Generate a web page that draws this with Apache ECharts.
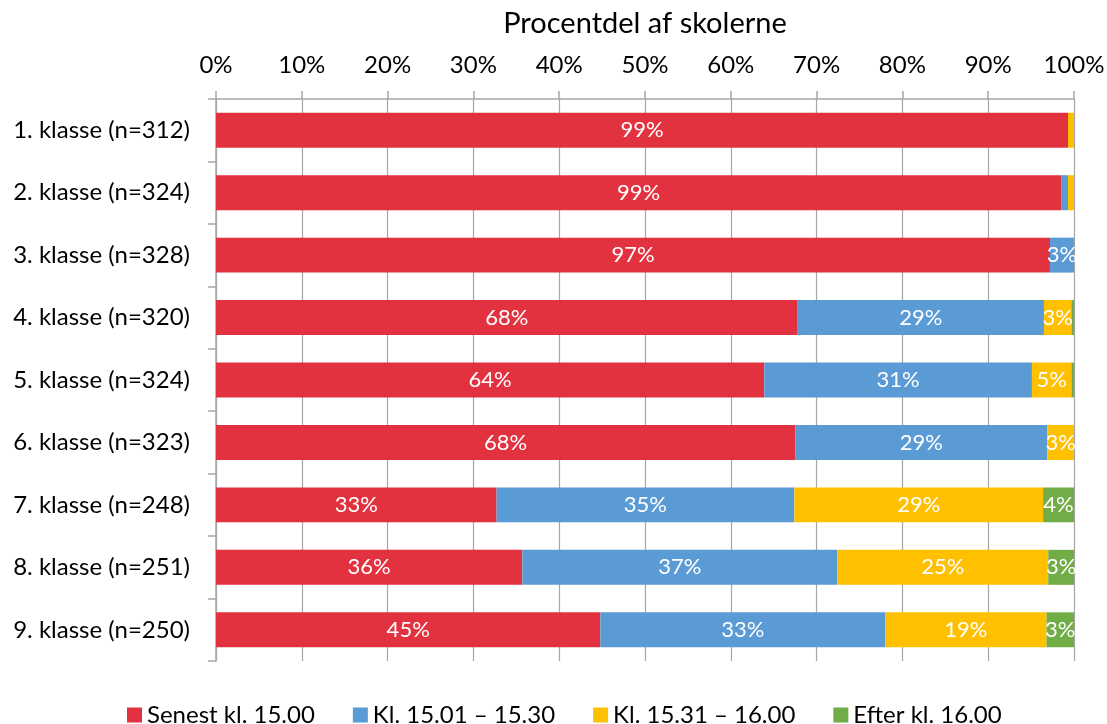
<!DOCTYPE html>
<html><head><meta charset="utf-8">
<script src="https://cdn.jsdelivr.net/npm/echarts@6/dist/echarts.min.js"></script>
<style>html,body{margin:0;padding:0;background:#fff}#c{width:1107px;height:724px}</style>
</head><body><div id="c"></div>
<script>
const categories = ['1. klasse (n=312)','2. klasse (n=324)','3. klasse (n=328)','4. klasse (n=320)','5. klasse (n=324)','6. klasse (n=323)','7. klasse (n=248)','8. klasse (n=251)','9. klasse (n=250)'];
const seriesNames = ['Senest kl. 15.00','Kl. 15.01 – 15.30','Kl. 15.31 – 16.00','Efter kl. 16.00'];
const senest = [99.3, 98.5, 97.2, 67.8, 63.9, 67.5, 32.7, 35.7, 44.8];
const kl1530 = [0.0, 0.8, 2.8, 28.7, 31.2, 29.4, 34.7, 36.7, 33.2];
const kl1600 = [0.7, 0.7, 0.0, 3.2, 4.6, 3.1, 29.0, 24.6, 18.8];
const efter = [0.0, 0.0, 0.0, 0.3, 0.3, 0.0, 3.6, 3.0, 3.2];
const xTicks = [0,10,20,30,40,50,60,70,80,90,100];
const colors = ['#E3323F','#5B9BD5','#FFC000','#70AD47'];
const FONT = 'Lato, "Open Sans", sans-serif';

const chart = echarts.init(document.getElementById('c'));
const dataSets = [senest, kl1530, kl1600, efter];
chart.setOption({
  animation:false,
  textStyle:{fontFamily:FONT},
  color:colors,
  grid:{left:216,right:33,top:99,bottom:63,containLabel:false,outerBoundsMode:'none'},
  legend:{
    data:seriesNames, bottom:-8, left:122, icon:'rect', itemWidth:15, itemHeight:15, itemGap:38,
    textStyle:{fontSize:24,color:'#000',fontFamily:FONT}
  },
  xAxis:{
    type:'value', position:'top', min:xTicks[0], max:xTicks[xTicks.length-1], interval:10,
    name:'Procentdel af skolerne', nameLocation:'middle', nameGap:61,
    nameTextStyle:{fontSize:29,color:'#000',fontFamily:FONT},
    axisLine:{show:true,lineStyle:{color:'#A6A6A6',width:1.5}},
    axisTick:{show:true,length:8,lineStyle:{color:'#A6A6A6',width:1.5}},
    splitLine:{show:true,lineStyle:{color:'#A6A6A6',width:1.2}},
    axisLabel:{formatter:'{value}%',fontSize:24,color:'#000',margin:22,fontFamily:FONT}
  },
  yAxis:{
    type:'category', inverse:true, data:categories,
    axisLine:{show:true,lineStyle:{color:'#A6A6A6',width:1.5}},
    axisTick:{show:true,length:8,lineStyle:{color:'#A6A6A6',width:1.5}},
    axisLabel:{fontSize:24,color:'#000',margin:26,fontFamily:FONT}
  },
  series: seriesNames.map((n,i)=>({
    name:n, type:'bar', stack:'total', barWidth:'56%',
    itemStyle:{color:colors[i]},
    label:{show:true, position:'inside', color:'#fff', fontSize:22, fontFamily:FONT,
      formatter:p=> p.value>=1.5 ? Math.round(p.value)+'%' : ''},
    data:dataSets[i]
  }))
});
</script></body></html>
